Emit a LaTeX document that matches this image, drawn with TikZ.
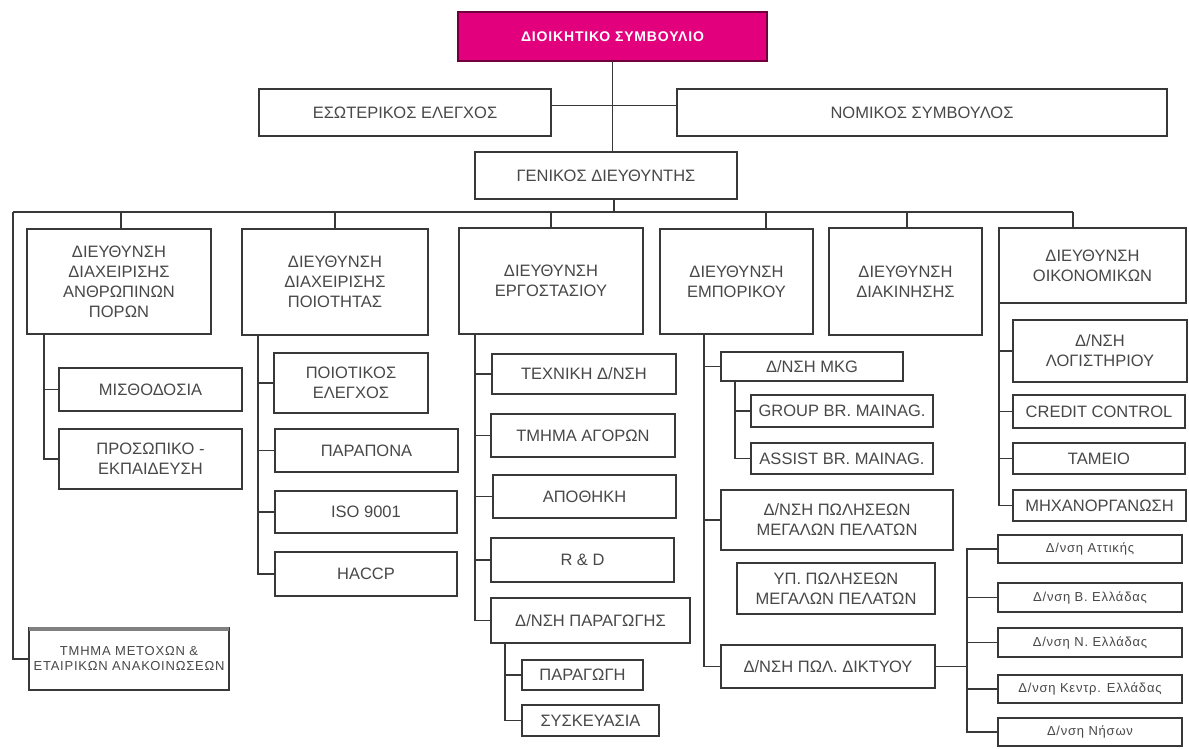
\documentclass[tikz,border=0pt]{standalone}
\usepackage{fontspec}
\setmainfont{Liberation Sans}
\definecolor{ln}{HTML}{383838}
\definecolor{tx}{HTML}{484848}
\definecolor{mag}{HTML}{E3007D}
\definecolor{magd}{HTML}{70003C}
\tikzset{
 boxst/.style={draw=ln, line width=1.6pt, fill=white, inner sep=0pt, outer sep=0pt, align=center, text=tx, font=\fontsize{16.5}{20}\selectfont},
 smallst/.style={font=\fontsize{13}{15}\selectfont\addfontfeature{LetterSpace=6}},
 magst/.style={fill=mag, draw=magd, text=white, font=\fontsize{14}{17}\bfseries\selectfont\addfontfeature{LetterSpace=6}},
 conn/.style={draw=ln, line width=1.6pt},
}
\newcommand\bx[7][]{\node[boxst,#1,minimum width={(#5-#3)*1pt},minimum height={(#6-#4)*1pt}] (#2) at ({(#3+#5)/2},{(#4+#6)/2}) {#7};}
\begin{document}
\begin{tikzpicture}[x=1pt,y=-1pt]
\fill[white] (0,0) rectangle (1189,749);
\useasboundingbox (0,0) rectangle (1189,749);
% top
\bx[magst]{ds}{458}{12}{767}{61}{ΔΙΟΙΚΗΤΙΚΟ ΣΥΜΒΟΥΛΙΟ}
\bx{ese}{259}{89}{551}{136}{ΕΣΩΤΕΡΙΚΟΣ ΕΛΕΓΧΟΣ}
\bx{nom}{677}{89}{1167}{136}{ΝΟΜΙΚΟΣ ΣΥΜΒΟΥΛΟΣ}
\bx{gd}{475}{152}{737}{199}{ΓΕΝΙΚΟΣ ΔΙΕΥΘΥΝΤΗΣ}
% level 2
\bx{anth}{27}{229}{211}{334}{ΔΙΕΥΘΥΝΣΗ\\ΔΙΑΧΕΙΡΙΣΗΣ\\ΑΝΘΡΩΠΙΝΩΝ\\ΠΟΡΩΝ}
\bx{poi}{242}{229}{428}{335}{ΔΙΕΥΘΥΝΣΗ\\ΔΙΑΧΕΙΡΙΣΗΣ\\ΠΟΙΟΤΗΤΑΣ}
\bx{erg}{459}{228}{643}{334}{ΔΙΕΥΘΥΝΣΗ\\ΕΡΓΟΣΤΑΣΙΟΥ}
\bx{emp}{660}{229}{813}{334}{ΔΙΕΥΘΥΝΣΗ\\ΕΜΠΟΡΙΚΟΥ}
\bx{diak}{829}{228}{982}{335}{ΔΙΕΥΘΥΝΣΗ\\ΔΙΑΚΙΝΗΣΗΣ}
\bx{oik}{999}{228}{1186}{303}{ΔΙΕΥΘΥΝΣΗ\\ΟΙΚΟΝΟΜΙΚΩΝ}
% HR
\bx{misth}{59}{368}{242}{411}{ΜΙΣΘΟΔΟΣΙΑ}
\bx{prosw}{59}{429}{242}{489}{ΠΡΟΣΩΠΙΚΟ -\\ΕΚΠΑΙΔΕΥΣΗ}
% quality
\bx{poiel}{274}{353}{428}{413}{ΠΟΙΟΤΙΚΟΣ\\ΕΛΕΓΧΟΣ}
\bx{parap}{275}{429}{458}{472}{ΠΑΡΑΠΟΝΑ}
\bx{iso}{275}{491}{457}{533}{ISO 9001}
\bx{haccp}{275}{552}{457}{596}{HACCP}
\bx[smallst]{tmhma}{29}{628}{229}{690}{ΤΜΗΜΑ ΜΕΤΟΧΩΝ \&\\ΕΤΑΙΡΙΚΩΝ ΑΝΑΚΟΙΝΩΣΕΩΝ}
\draw[line width=4pt, gray] ([yshift=-1pt]tmhma.north west) -- ([yshift=-1pt]tmhma.north east);
% factory
\bx{texn}{492}{354}{676}{394}{ΤΕΧΝΙΚΗ Δ/ΝΣΗ}
\bx{agor}{491}{414}{675}{457}{ΤΜΗΜΑ ΑΓΟΡΩΝ}
\bx{apoth}{493}{475}{676}{518}{ΑΠΟΘΗΚΗ}
\bx{rd}{491}{538}{674}{582}{R \& D}
\bx{parag}{491}{598}{690}{643}{Δ/ΝΣΗ ΠΑΡΑΓΩΓΗΣ}
\bx{paragwgh}{522}{660}{643}{690}{ΠΑΡΑΓΩΓΗ}
\bx{syskev}{522}{705}{659}{736}{ΣΥΣΚΕΥΑΣΙΑ}
% commercial
\bx{mkg}{721}{352}{903}{381}{Δ/ΝΣΗ MKG}
\bx{group}{751}{395}{933}{427}{GROUP BR. MAINAG.}
\bx{assist}{751}{443}{933}{474}{ASSIST BR. MAINAG.}
\bx{megal}{721}{490}{953}{550}{Δ/ΝΣΗ ΠΩΛΗΣΕΩΝ\\ΜΕΓΑΛΩΝ ΠΕΛΑΤΩΝ}
\bx{yp}{737}{563}{935}{614}{ΥΠ. ΠΩΛΗΣΕΩΝ\\ΜΕΓΑΛΩΝ ΠΕΛΑΤΩΝ}
\bx{dikt}{721}{645}{935}{688}{Δ/ΝΣΗ ΠΩΛ. ΔΙΚΤΥΟΥ}
% finance
\bx{logist}{1013}{320}{1187}{382}{Δ/ΝΣΗ\\ΛΟΓΙΣΤΗΡΙΟΥ}
\bx{credit}{1013}{395}{1185}{428}{CREDIT CONTROL}
\bx{tameio}{1013}{443}{1185}{474}{ΤΑΜΕΙΟ}
\bx{mix}{1013}{490}{1186}{521}{ΜΗΧΑΝΟΡΓΑΝΩΣΗ}
% network
\bx[smallst]{att}{998}{535}{1182}{563}{Δ/νση Αττικής}
\bx[smallst]{vel}{998}{583}{1182}{612}{Δ/νση Β. Ελλάδας}
\bx[smallst]{nel}{998}{628}{1182}{657}{Δ/νση Ν. Ελλάδας}
\bx[smallst]{kel}{998}{675}{1182}{703}{Δ/νση Κεντρ. Ελλάδας}
\bx[smallst]{nis}{998}{718}{1182}{746}{Δ/νση Νήσων}
% connectors
\coordinate (busL) at (13,212);
\coordinate (busR) at (1073,212);
\coordinate (aV) at (44,0);
\coordinate (pV) at (258,0);
\coordinate (gV) at (475,0);
\coordinate (gV2) at (505,0);
\coordinate (eV) at (704,0);
\coordinate (mV) at (735,0);
\coordinate (dV) at (967,0);
\draw[conn] (ds.south) -- (ds.south |- gd.north);
\draw[conn] ([yshift=7pt]ese.east) -- ([yshift=7pt]nom.west);
\draw[conn] ([xshift=8pt]gd.south) -- ([xshift=8pt]gd.south |- busL);
\draw[conn] (busL) -- (busR);
\draw[conn] ([xshift=2pt]anth.north) -- ([xshift=2pt]anth.north |- busL);
\draw[conn] (poi.north) -- (poi.north |- busL);
\draw[conn] (erg.north) -- (erg.north |- busL);
\draw[conn] ([xshift=29.5pt]emp.north) -- ([xshift=29.5pt]emp.north |- busL);
\draw[conn] ([xshift=1.5pt]diak.north) -- ([xshift=1.5pt]diak.north |- busL);
\draw[conn] (busR) -- (busR |- oik.north);
\draw[conn] (busL) |- (tmhma.west);
% HR
\draw[conn] (anth.south -| aV) |- (prosw.west);
\draw[conn] (aV |- misth.west) -- (misth.west);
% quality
\draw[conn] (poi.south -| pV) |- (haccp.west);
\draw[conn] (pV |- poiel.west) -- (poiel.west);
\draw[conn] (pV |- parap.west) -- (parap.west);
\draw[conn] (pV |- iso.west) -- (iso.west);
% factory
\draw[conn] (erg.south -| gV) |- (parag.west);
\draw[conn] (gV |- texn.west) -- (texn.west);
\draw[conn] (gV |- agor.west) -- (agor.west);
\draw[conn] (gV |- apoth.west) -- (apoth.west);
\draw[conn] (gV |- rd.west) -- (rd.west);
\draw[conn] (parag.south -| gV2) |- (syskev.west);
\draw[conn] (gV2 |- paragwgh.west) -- (paragwgh.west);
% commercial
\draw[conn] (emp.south -| eV) |- (dikt.west);
\draw[conn] (eV |- mkg.west) -- (mkg.west);
\draw[conn] (eV |- megal.west) -- (megal.west);
\draw[conn] (mkg.south -| mV) |- (assist.west);
\draw[conn] (mV |- group.west) -- (group.west);
% network
\draw[conn] (dikt.east) -- (dikt.east -| dV);
\draw[conn] (att.west) -| (dV |- nis.west) -- (nis.west);
\draw[conn] (dV |- vel.west) -- (vel.west);
\draw[conn] (dV |- nel.west) -- (nel.west);
\draw[conn] (dV |- kel.west) -- (kel.west);
% finance
\draw[conn] (oik.south west) |- (mix.west);
\draw[conn] (oik.south west |- logist.west) -- (logist.west);
\draw[conn] (oik.south west |- credit.west) -- (credit.west);
\draw[conn] (oik.south west |- tameio.west) -- (tameio.west);
\end{tikzpicture}
\end{document}
